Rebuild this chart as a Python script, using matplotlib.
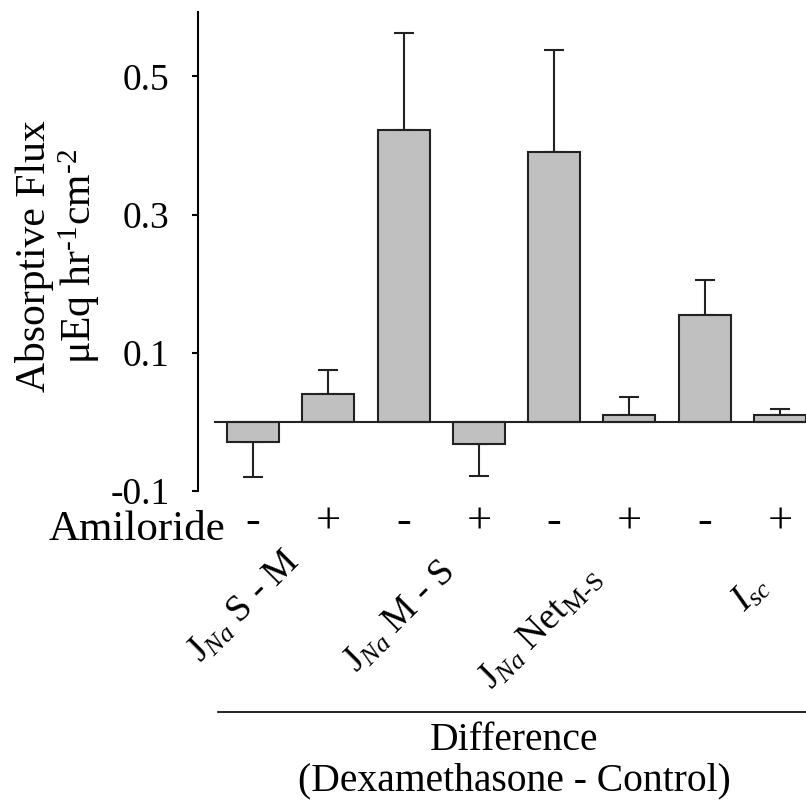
import matplotlib
matplotlib.use("Agg")
import matplotlib.pyplot as plt
from matplotlib.lines import Line2D

# -----------------------------
# Data
# -----------------------------
amiloride = ["-", "+", "-", "+", "-", "+", "-", "+"]
flux = [-0.029, 0.040, 0.423, -0.032, 0.391, 0.010, 0.155, 0.010]
sem = [0.051, 0.035, 0.139, 0.047, 0.147, 0.026, 0.050, 0.008]
groups = [r"$\mathrm{J}_{Na}$ S - M", r"$\mathrm{J}_{Na}$ M - S",
          r"$\mathrm{J}_{Na}$ Net$_{\mathrm{M\text{-}S}}$", r"$I_{sc}$"]
yticks = [-0.1, 0.1, 0.3, 0.5]
ytick_labels = ["-0.1", "0.1", "0.3", "0.5"]

plt.rcParams.update({
    "font.family": "Liberation Serif",
    "mathtext.fontset": "custom",
    "mathtext.rm": "Liberation Serif",
    "mathtext.it": "Liberation Serif:italic",
    "mathtext.bf": "Liberation Serif:bold",
    "axes.unicode_minus": False,
})

fig = plt.figure(figsize=(8.06, 8.02), dpi=100)
ax = fig.add_axes([198 / 806, 1 - 491 / 802, 1 - 198 / 806, 479 / 802])

x = list(range(len(flux)))
lower = [s if v < 0 else 0 for v, s in zip(flux, sem)]
upper = [s if v >= 0 else 0 for v, s in zip(flux, sem)]

ax.bar(x, flux, width=0.69, color="#c0c0c0", edgecolor="#222222", linewidth=1.5, zorder=2)
ax.errorbar(x, flux, yerr=[lower, upper], fmt="none", ecolor="#222222",
            elinewidth=1.5, capsize=7.5, capthick=1.5, zorder=1)
ax.plot([-0.5, 7.5], [0, 0], color="#222222", linewidth=1.5, zorder=3)

ax.set_xlim(-0.73, 7.345)
ax.set_ylim(-0.1, 0.593)

for side in ("top", "right", "bottom"):
    ax.spines[side].set_visible(False)
ax.spines["left"].set_linewidth(1.5)

ax.set_yticks(yticks)
ax.set_yticklabels(ytick_labels, fontsize=27)
ax.tick_params(axis="y", length=4.5, width=1.5, pad=16)

ax.set_xticks(x)
ax.set_xticklabels(amiloride, fontsize=32)
ax.tick_params(axis="x", length=0, pad=8)

ax.set_ylabel("Absorptive Flux\nμEq hr$^{\\text{-}1}$cm$^{\\text{-}2}$",
              fontsize=30, linespacing=1.05)
ax.yaxis.set_label_coords(-0.158, 0.49)

# row label for the +/- tick labels
ax.text(-0.37, -0.08, "Amiloride", transform=ax.get_xaxis_transform(),
        ha="right", va="center", fontsize=31)

# rotated group labels (top-right corner of each label)
label_x = [0.72, 2.78, 4.72, 6.95]
label_y = [-0.112, -0.134, -0.146, -0.162]
for gx, gy, g in zip(label_x, label_y, groups):
    ax.text(gx, gy, g, transform=ax.get_xaxis_transform(), rotation=45,
            ha="right", va="top", fontsize=27)

fig.add_artist(Line2D([218 / 806, 1.0], [1 - 712 / 802, 1 - 712 / 802],
                      transform=fig.transFigure, color="black", linewidth=1.2))
fig.text(514 / 806, 1 - 761 / 802, "Difference\n(Dexamethasone - Control)",
         ha="center", va="center", fontsize=28.5, linespacing=1.12)

fig.savefig("out.png", dpi=100)
